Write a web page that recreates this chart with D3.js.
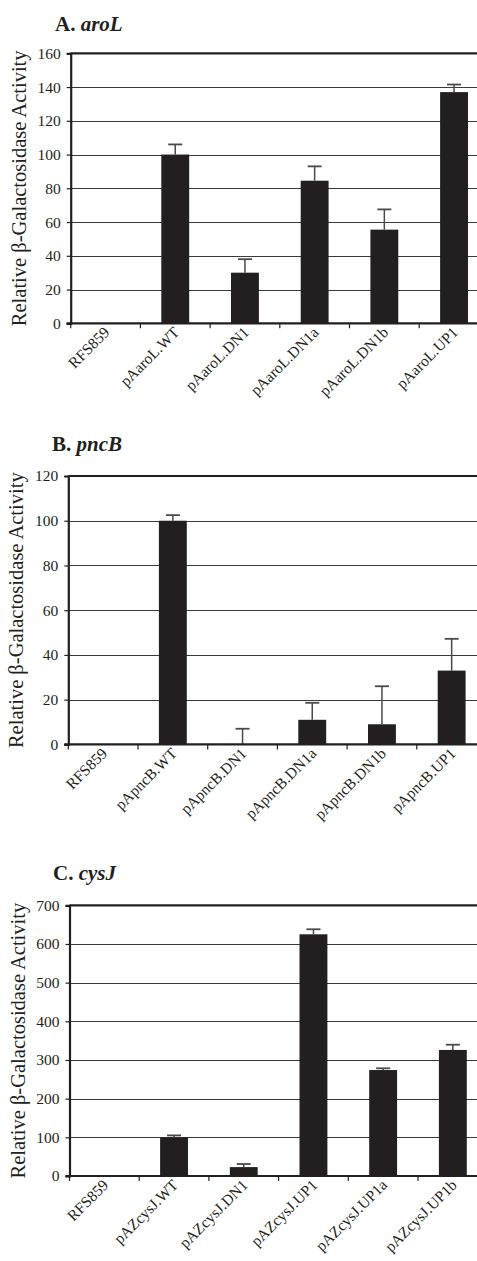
<!DOCTYPE html>
<html>
<head>
<meta charset="utf-8">
<script src="https://cdn.jsdelivr.net/npm/d3@7.9.0/dist/d3.min.js"></script>
<style>
  html, body { margin: 0; padding: 0; background: #fff; }
  svg text { font-family: "Liberation Serif", "DejaVu Serif", serif; fill: #231f20; }
</style>
</head>
<body>
<svg id="chart" width="477" height="1261"></svg>
<script>
// ---- data ----
const catsA = ['RFS859', 'pAaroL.WT', 'pAaroL.DN1', 'pAaroL.DN1a', 'pAaroL.DN1b', 'pAaroL.UP1'];
const valsA = [0, 100, 30, 84.5, 55.5, 137];
const errsA = [0, 6, 8, 8.5, 12, 4.5];
const ticksA = [0, 20, 40, 60, 80, 100, 120, 140, 160];

const catsB = ['RFS859', 'pApncB.WT', 'pApncB.DN1', 'pApncB.DN1a', 'pApncB.DN1b', 'pApncB.UP1'];
const valsB = [0, 100, 0, 11, 9, 33];
const errsB = [0, 2.5, 7, 7.6, 17, 14.2];
const ticksB = [0, 20, 40, 60, 80, 100, 120];

const catsC = ['RFS859', 'pAZcysJ.WT', 'pAZcysJ.DN1', 'pAZcysJ.UP1', 'pAZcysJ.UP1a', 'pAZcysJ.UP1b'];
const valsC = [0, 100, 23, 625, 274, 326];
const errsC = [0, 5, 8, 13, 4.5, 13.5];
const ticksC = [0, 100, 200, 300, 400, 500, 600, 700];

const yTitle = 'Relative \u03B2-Galactosidase Activity';
const serif = '"Liberation Serif", "DejaVu Serif", serif';

const svg = d3.select('#chart');

function drawPanel(opt) {
  const { letter, gene, cats, vals, errs, ticks, left, top, bottom, titleX, titleY } = opt;
  const step = 69.7;
  const right = left + cats.length * step;
  const g = svg.append('g');
  const rows = cats.map((c, i) => ({ c, v: vals[i], e: errs[i] }));

  const x = d3.scaleBand()
    .domain(cats)
    .range([left, right])
    .paddingInner(0.6)
    .paddingOuter(0.3);

  const y = d3.scaleLinear()
    .domain([0, d3.max(ticks)])
    .range([bottom, top]);

  // title
  const t = g.append('text')
    .attr('x', titleX)
    .attr('y', titleY)
    .attr('font-family', serif)
    .attr('font-size', 21)
    .attr('font-weight', 'bold');
  t.append('tspan').text(letter + '. ');
  t.append('tspan').attr('font-style', 'italic').text(gene);

  // gridlines
  g.append('g')
    .selectAll('line')
    .data(ticks.slice(1, -1))
    .join('line')
    .attr('x1', left)
    .attr('x2', right)
    .attr('y1', (d) => Math.round(y(d)) + 0.5)
    .attr('y2', (d) => Math.round(y(d)) + 0.5)
    .attr('stroke', '#3a3a3a')
    .attr('stroke-width', 1.2);

  // top border
  g.append('line')
    .attr('x1', left).attr('x2', right)
    .attr('y1', y(d3.max(ticks))).attr('y2', y(d3.max(ticks)))
    .attr('stroke', '#231f20').attr('stroke-width', 2.2);

  // y axis
  const yAxis = d3.axisLeft(y).tickValues(ticks).tickSize(4).tickPadding(6);
  const ya = g.append('g').attr('transform', `translate(${left},0)`).call(yAxis);
  ya.attr('font-family', serif).attr('font-size', 15.5);
  ya.select('.domain').attr('stroke', '#231f20').attr('stroke-width', 2.2);
  ya.selectAll('.tick line').attr('stroke', '#231f20').attr('stroke-width', 1.2);
  ya.selectAll('.tick text').attr('fill', '#231f20');

  // bars
  g.append('g')
    .selectAll('rect')
    .data(rows)
    .join('rect')
    .attr('x', (d) => x(d.c))
    .attr('width', x.bandwidth())
    .attr('y', (d) => y(d.v))
    .attr('height', (d) => y(0) - y(d.v))
    .attr('fill', '#231f20');

  // error bars
  const eb = g.append('g')
    .selectAll('g')
    .data(rows.filter((d) => d.e > 0))
    .join('g');
  eb.append('line')
    .attr('x1', (d) => x(d.c) + x.bandwidth() / 2)
    .attr('x2', (d) => x(d.c) + x.bandwidth() / 2)
    .attr('y1', (d) => y(d.v))
    .attr('y2', (d) => y(d.v + d.e))
    .attr('stroke', '#4a4a4a')
    .attr('stroke-width', 1.5);
  eb.append('line')
    .attr('x1', (d) => x(d.c) + x.bandwidth() / 2 - 7)
    .attr('x2', (d) => x(d.c) + x.bandwidth() / 2 + 7)
    .attr('y1', (d) => y(d.v + d.e))
    .attr('y2', (d) => y(d.v + d.e))
    .attr('stroke', '#4a4a4a')
    .attr('stroke-width', 1.8);

  // x axis baseline and boundary ticks
  g.append('line')
    .attr('x1', left - 4).attr('x2', right)
    .attr('y1', y(0)).attr('y2', y(0))
    .attr('stroke', '#231f20').attr('stroke-width', 2.2);
  const bounds = cats.map((c) => x(c) - x.step() * x.paddingInner() / 2).concat([right]);
  g.append('g')
    .selectAll('line')
    .data(bounds)
    .join('line')
    .attr('x1', (d) => d).attr('x2', (d) => d)
    .attr('y1', y(0)).attr('y2', y(0) + 5)
    .attr('stroke', '#231f20').attr('stroke-width', 1.2);

  // category labels
  g.append('g')
    .selectAll('text')
    .data(cats)
    .join('text')
    .attr('font-family', serif)
    .attr('font-size', 15.5)
    .attr('text-anchor', 'end')
    .attr('transform', (d) => `translate(${x(d) + x.bandwidth() / 2 + 5},${y(0) + 10}) rotate(-45)`)
    .text((d) => d);

  // y title
  g.append('text')
    .attr('font-family', serif)
    .attr('font-size', 20.5)
    .attr('text-anchor', 'middle')
    .attr('transform', `translate(${left - 45},${(top + bottom) / 2}) rotate(-90)`)
    .text(yTitle);
}

drawPanel({ letter: 'A', gene: 'aroL', cats: catsA, vals: valsA, errs: errsA, ticks: ticksA,
  left: 70.7, top: 53.3, bottom: 323.3, titleX: 55, titleY: 31 });
drawPanel({ letter: 'B', gene: 'pncB', cats: catsB, vals: valsB, errs: errsB, ticks: ticksB,
  left: 68.3, top: 476, bottom: 744.4, titleX: 52, titleY: 451 });
drawPanel({ letter: 'C', gene: 'cysJ', cats: catsC, vals: valsC, errs: errsC, ticks: ticksC,
  left: 69.5, top: 905.3, bottom: 1176, titleX: 53, titleY: 880 });
</script>
</body>
</html>
